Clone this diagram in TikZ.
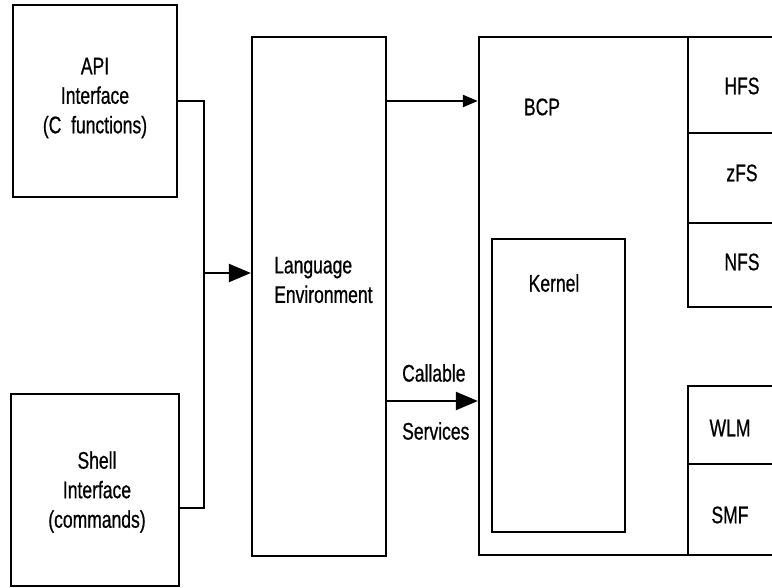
\documentclass[tikz,border=0pt]{standalone}
\usepackage{fontspec}
\setmainfont[FakeStretch=0.73,FakeBold=0.7]{Liberation Sans}
\usetikzlibrary{arrows.meta}
\begin{document}
\begin{tikzpicture}[x=1pt,y=-1pt,
  box/.style={draw,line width=2.3pt,inner sep=0pt},
  lbl/.style={inner sep=0pt,font=\fontsize{24}{29.5}\selectfont,align=center},
  conn/.style={line width=2.3pt},
  bigtip/.style={-{Triangle[length=22pt,width=18pt]}},
  smalltip/.style={-{Triangle[length=15pt,width=12pt]}}]
\useasboundingbox (0,0) rectangle (772,588);
\clip (0,0) rectangle (772,588);
% boxes
\node[box,minimum width=164pt,minimum height=192pt] (api) at (95,101) {};
\node[box,minimum width=168pt,minimum height=192pt] (shell) at (95,490) {};
\node[box,minimum width=134pt,minimum height=519pt] (le) at (319,296.5) {};
\node[box,minimum width=321pt,minimum height=518pt] (bcp) at (639.5,296) {};
\node[box,minimum width=133pt,minimum height=293pt] (kernel) at (558.5,385.5) {};
\node[box,minimum width=112pt,minimum height=96pt] (hfs) at (744,85) {};
\node[box,minimum width=112pt,minimum height=90pt] (zfs) at (744,178) {};
\node[box,minimum width=112pt,minimum height=84pt] (nfs) at (744,265) {};
\node[box,minimum width=112pt,minimum height=78pt] (wlm) at (744,425) {};
\node[box,minimum width=112pt,minimum height=91pt] (smf) at (744,509.5) {};
% texts
\node[lbl] (apit) at (95,98) {API\\Interface\\(C\ \ functions)};
\node[lbl] (shellt) at (97,492) {Shell\\Interface\\(commands)};
\node[lbl,align=left,anchor=west] (let) at (274,280) {Language\\Environment};
\node[lbl] (bcpt) at (542,107) {BCP};
\node[lbl] (kernelt) at (554,283) {Kernel};
\node[lbl] (hfst) at (742,86) {HFS};
\node[lbl] (zfst) at (742,173) {zFS};
\node[lbl] (nfst) at (742,262) {NFS};
\node[lbl] (wlmt) at (730,428) {WLM};
\node[lbl] (smft) at (730,515) {SMF};
\node[lbl,anchor=west] (callt) at (402,373) {Callable};
\node[lbl,anchor=west] (servt) at (402,431) {Services};
% connectors
\coordinate (jb) at (204,508);
\coordinate (ja) at (204,273);
\coordinate (top) at (0,101);
\coordinate (cs) at (0,401);
\draw[conn] (api.east) -| (jb) -- (shell.east |- jb);
\draw[conn,bigtip] (ja) -- (le.west |- ja);
\draw[conn,smalltip] (le.east |- top) -- (bcp.west |- top);
\draw[conn,bigtip] (le.east |- cs) -- (bcp.west |- cs);
\end{tikzpicture}
\end{document}
